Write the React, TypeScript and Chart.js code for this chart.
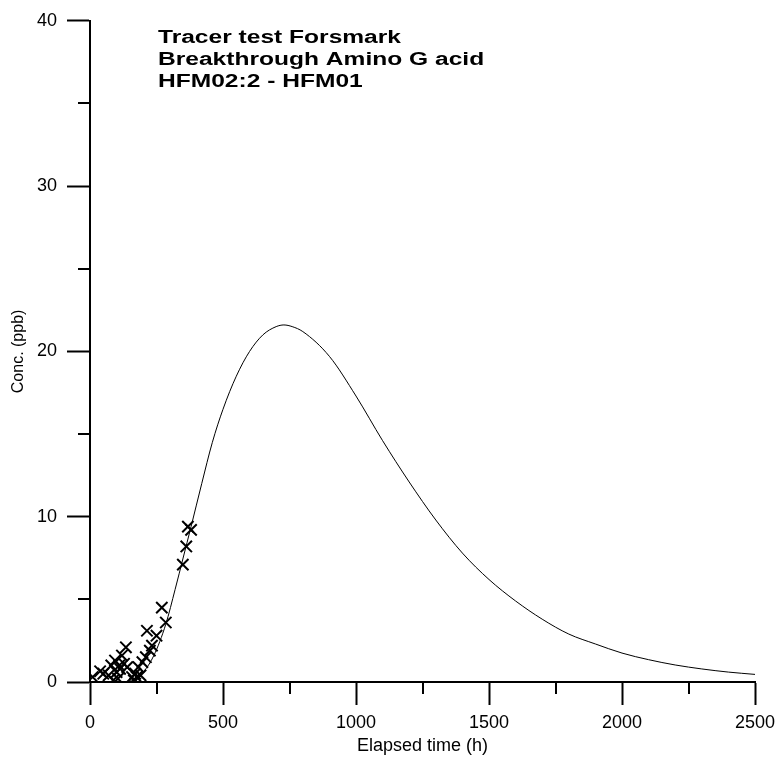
import React, { useEffect, useRef } from "react";
import { Chart, registerables } from "chart.js";

Chart.register(...registerables);

// Model curve (hours, ppb)
const curveTime = [0, 100, 130, 160, 200, 240, 285, 320, 350, 380, 420, 460, 500, 550, 600, 650, 700, 729, 760, 800, 900, 1000, 1100, 1200, 1300, 1400, 1500, 1600, 1700, 1800, 1900, 2000, 2100, 2200, 2300, 2400, 2500];
const curveConc = [0, 0, 0.01, 0.15, 0.6, 1.6, 3.5, 5.6, 7.5, 9.4, 12.0, 14.5, 16.5, 18.5, 20.0, 21.0, 21.5, 21.6, 21.5, 21.2, 19.7, 17.3, 14.6, 12.1, 9.8, 7.8, 6.2, 4.9, 3.8, 2.9, 2.3, 1.75, 1.35, 1.03, 0.79, 0.6, 0.46];

// Measured breakthrough (hours, ppb)
const obsTime = [10, 38, 50, 70, 80, 87, 94, 100, 105, 110, 113, 120, 128, 135, 140, 158, 165, 170, 175, 182, 190, 197, 210, 214, 225, 233, 250, 270, 285, 349, 362, 368, 380];
const obsConc = [0.3, 0.65, 0.5, 0.4, 1.0, 0.1, 1.3, 0.6, 0.2, 1.0, 0.8, 1.6, 1.1, 2.1, 0.9, 0.3, 0.1, 0.5, 0.3, 0.9, 0.4, 1.2, 1.5, 3.1, 1.9, 2.2, 2.8, 4.5, 3.6, 7.1, 8.2, 9.4, 9.2];

const titleLines = ["Tracer test Forsmark", "Breakthrough Amino G acid", "HFM02:2 - HFM01"];
const xMinorTicks = [250, 750, 1250, 1750, 2250];
const yMinorTicks = [5, 15, 25, 35];

const FONT = "'Liberation Sans', Arial, sans-serif";

export default function App() {
  const ref = useRef<HTMLCanvasElement | null>(null);

  useEffect(() => {
    document.body.style.margin = "0";
    const canvas = ref.current;
    if (!canvas) return;

    const overlay = {
      id: "overlay",
      afterDraw(chart: any) {
        const ctx = chart.ctx;
        const xs = chart.scales.x;
        const ys = chart.scales.y;
        const area = chart.chartArea;
        ctx.save();
        ctx.strokeStyle = "#000";
        ctx.lineWidth = 2;
        ctx.beginPath();
        for (const v of yMinorTicks) {
          const y = Math.round(ys.getPixelForValue(v));
          ctx.moveTo(area.left - 12, y);
          ctx.lineTo(area.left, y);
        }
        for (const v of xMinorTicks) {
          const x = Math.round(xs.getPixelForValue(v));
          ctx.moveTo(x, area.bottom);
          ctx.lineTo(x, area.bottom + 12);
        }
        ctx.stroke();
        ctx.fillStyle = "#000";
        ctx.font = `bold 18px ${FONT}`;
        ctx.textBaseline = "alphabetic";
        ctx.textAlign = "left";
        const w0 = ctx.measureText(titleLines[0]).width;
        const sx = 243 / w0;
        const x0 = area.left + 68;
        titleLines.forEach((t, i) => {
          ctx.save();
          ctx.translate(x0, 43 + i * 22);
          ctx.scale(sx, 1);
          ctx.fillText(t, 0, 0);
          ctx.restore();
        });
        ctx.restore();
      },
    };

    const chart = new Chart(canvas, {
      type: "scatter",
      data: {
        datasets: [
          {
            label: "Model",
            data: curveTime.map((t, i) => ({ x: t, y: curveConc[i] })),
            showLine: true,
            borderColor: "#000",
            borderWidth: 1,
            pointRadius: 0,
            cubicInterpolationMode: "monotone",
          },
          {
            label: "Measured",
            data: obsTime.map((t, i) => ({ x: t, y: obsConc[i] })),
            pointStyle: "crossRot",
            pointRadius: 8,
            borderColor: "#000",
            backgroundColor: "#000",
            pointBorderWidth: 2,
            borderWidth: 2,
            showLine: false,
          },
        ],
      },
      options: {
        responsive: false,
        animation: false,
        layout: { padding: { left: 0, top: 19, right: 22, bottom: 0 } },
        plugins: { legend: { display: false }, tooltip: { enabled: false }, title: { display: false } },
        scales: {
          x: {
            type: "linear",
            min: 0,
            max: 2500,
            afterFit(scale: any) {
              scale.height = 78;
              scale.paddingRight = 0;
              scale.paddingLeft = 0;
            },
            ticks: {
              stepSize: 500,
              color: "#000",
              font: { family: FONT, size: 18 },
              padding: 7,
              maxRotation: 0,
              callback: (v: any) => String(v),
            },
            grid: { drawOnChartArea: false, drawTicks: true, tickLength: 23, tickWidth: 2, tickColor: "#000" },
            border: { display: true, color: "#000", width: 2 },
            title: { display: true, text: "Elapsed time (h)", color: "#000", font: { family: FONT, size: 18 }, padding: { top: 0, bottom: 3 } },
          },
          y: {
            type: "linear",
            min: 0,
            max: 40,
            afterFit(scale: any) {
              scale.width = 90;
            },
            ticks: { stepSize: 10, color: "#000", font: { family: FONT, size: 18 }, padding: 10, callback: (v: any) => String(v) },
            grid: { drawOnChartArea: false, drawTicks: true, tickLength: 23, tickWidth: 2, tickColor: "#000" },
            border: { display: true, color: "#000", width: 2 },
            title: { display: true, text: "Conc. (ppb)", color: "#000", font: { family: FONT, size: 16 }, padding: { top: 9, bottom: 0 } },
          },
        },
      },
      plugins: [overlay],
    } as any);

    return () => chart.destroy();
  }, []);

  return (
    <div style={{ width: 777, height: 760, background: "#fff" }}>
      <canvas ref={ref} width={777} height={760} />
    </div>
  );
}
